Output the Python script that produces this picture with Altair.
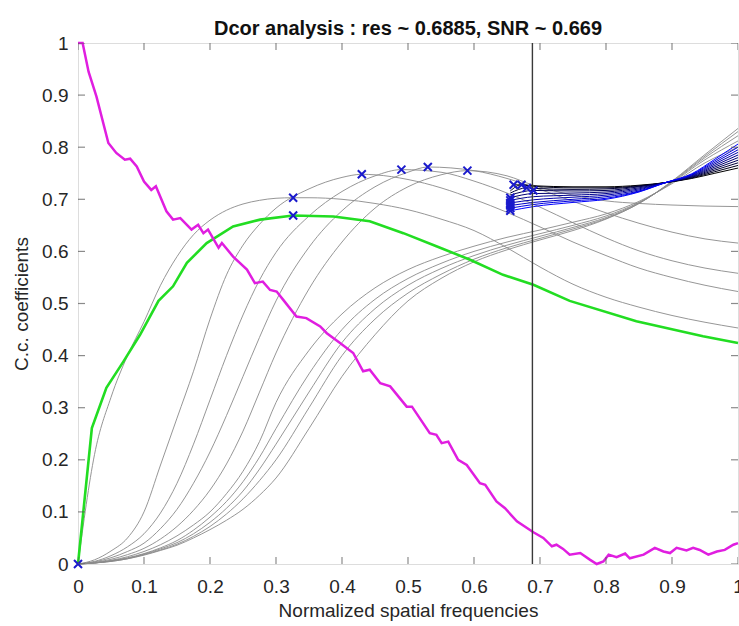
import altair as alt
import pandas as pd

W, H = 660, 521
AX = "#6e6e6e"
TXT = "#262626"
FONT = "Liberation Sans"

title_text = "Dcor analysis : res ~ 0.6885, SNR ~ 0.669"
res_cut = 0.6885
x_ticks = [0, 0.1, 0.2, 0.3, 0.4, 0.5, 0.6, 0.7, 0.8, 0.9, 1]
y_ticks = [0, 0.1, 0.2, 0.3, 0.4, 0.5, 0.6, 0.7, 0.8, 0.9, 1]

# unfiltered decorrelation curve d0(r)
green_x = [0, 0.021, 0.043, 0.069, 0.094, 0.122, 0.144, 0.165, 0.195, 0.235, 0.276,
           0.326, 0.387, 0.442, 0.493, 0.543, 0.594, 0.644, 0.69, 0.745, 0.846, 0.947, 1.0]
green_y = [0, 0.261, 0.338, 0.389, 0.44, 0.505, 0.533, 0.578, 0.616, 0.648, 0.661,
           0.669, 0.667, 0.658, 0.635, 0.61, 0.584, 0.555, 0.536, 0.505, 0.466, 0.437, 0.424]

# normalized radial power spectrum
mag_x = [0, 0.007, 0.016, 0.028, 0.046, 0.058, 0.071, 0.079, 0.089, 0.1, 0.111, 0.118,
         0.134, 0.144, 0.155, 0.172, 0.182, 0.19, 0.197, 0.213, 0.218, 0.235, 0.256,
         0.268, 0.28, 0.291, 0.301, 0.311, 0.331, 0.346, 0.367, 0.377, 0.397, 0.417,
         0.432, 0.442, 0.458, 0.473, 0.498, 0.506, 0.533, 0.543, 0.551, 0.561, 0.576,
         0.589, 0.609, 0.617, 0.634, 0.647, 0.665, 0.69, 0.705, 0.718, 0.725, 0.735,
         0.745, 0.761, 0.776, 0.786, 0.796, 0.804, 0.816, 0.829, 0.836, 0.857, 0.874,
         0.887, 0.897, 0.907, 0.922, 0.932, 0.942, 0.955, 0.968, 0.98, 0.993, 1.0]
mag_y = [1.0, 1.0, 0.945, 0.897, 0.808, 0.789, 0.776, 0.778, 0.763, 0.734, 0.718, 0.725,
         0.677, 0.661, 0.664, 0.642, 0.651, 0.635, 0.642, 0.607, 0.616, 0.59, 0.565,
         0.539, 0.542, 0.526, 0.523, 0.507, 0.475, 0.472, 0.456, 0.443, 0.424, 0.405,
         0.37, 0.373, 0.347, 0.341, 0.302, 0.302, 0.251, 0.248, 0.232, 0.235, 0.2,
         0.19, 0.155, 0.152, 0.12, 0.107, 0.082, 0.061, 0.05, 0.034, 0.037, 0.029,
         0.018, 0.021, 0.008, 0.0, 0.005, 0.018, 0.013, 0.02, 0.011, 0.018, 0.031,
         0.024, 0.021, 0.031, 0.026, 0.031, 0.027, 0.018, 0.024, 0.027, 0.037, 0.04]

# first high-pass sweep
grid = [0, 0.025, 0.05, 0.075, 0.1, 0.125, 0.15, 0.175, 0.2, 0.225, 0.25, 0.275, 0.3,
        0.35, 0.4, 0.45, 0.5, 0.55, 0.6, 0.65, 0.7, 0.75, 0.8, 0.85, 0.9, 0.95, 1.0]

hp1_x = [0, 0.025, 0.05, 0.075, 0.1, 0.125, 0.15, 0.175, 0.2, 0.225, 0.25, 0.275, 0.3,
         0.326, 0.35, 0.4, 0.45, 0.5, 0.55, 0.6, 0.65, 0.7, 0.75, 0.8, 0.85, 0.9, 0.95, 1.0]
hp1_y = [0, 0.21, 0.32, 0.40, 0.465, 0.535, 0.59, 0.632, 0.66, 0.679, 0.691, 0.698, 0.702,
         0.703, 0.703, 0.70, 0.692, 0.68, 0.662, 0.64, 0.607, 0.57, 0.537, 0.512, 0.493,
         0.477, 0.464, 0.453]

hp2_x = [0, 0.025, 0.05, 0.075, 0.1, 0.125, 0.15, 0.175, 0.2, 0.225, 0.25, 0.275, 0.3,
         0.35, 0.4, 0.43, 0.45, 0.5, 0.55, 0.6, 0.65, 0.7, 0.75, 0.8, 0.85, 0.9, 0.95, 1.0]
hp2_y = [0, 0.008, 0.025, 0.05, 0.10, 0.19, 0.28, 0.37, 0.47, 0.555, 0.612, 0.652, 0.683,
         0.72, 0.742, 0.748, 0.747, 0.738, 0.722, 0.70, 0.675, 0.647, 0.618, 0.592, 0.568,
         0.55, 0.535, 0.523]

hp3_x = [0, 0.025, 0.05, 0.075, 0.1, 0.125, 0.15, 0.175, 0.2, 0.225, 0.25, 0.275, 0.3,
         0.35, 0.4, 0.45, 0.49, 0.55, 0.6, 0.65, 0.7, 0.75, 0.8, 0.85, 0.9, 0.95, 1.0]
hp3_y = [0, 0.005, 0.016, 0.033, 0.058, 0.098, 0.155, 0.23, 0.315, 0.40, 0.478, 0.545,
         0.598, 0.668, 0.715, 0.745, 0.757, 0.752, 0.735, 0.712, 0.685, 0.655, 0.626,
         0.601, 0.582, 0.568, 0.558]

hp4_x = [0, 0.025, 0.05, 0.075, 0.1, 0.125, 0.15, 0.175, 0.2, 0.225, 0.25, 0.275, 0.3,
         0.35, 0.4, 0.45, 0.5, 0.53, 0.6, 0.65, 0.7, 0.75, 0.8, 0.85, 0.9, 0.95, 1.0]
hp4_y = [0, 0.004, 0.012, 0.024, 0.04, 0.068, 0.105, 0.155, 0.215, 0.285, 0.36, 0.435,
         0.505, 0.608, 0.678, 0.724, 0.752, 0.762, 0.755, 0.74, 0.719, 0.696, 0.674,
         0.654, 0.637, 0.624, 0.616]

hp5_x = [0, 0.025, 0.05, 0.075, 0.1, 0.125, 0.15, 0.175, 0.2, 0.225, 0.25, 0.275, 0.3,
         0.35, 0.4, 0.45, 0.5, 0.55, 0.59, 0.65, 0.69, 0.75, 0.8, 0.85, 0.9, 0.95, 1.0]
hp5_y = [0, 0.003, 0.009, 0.018, 0.03, 0.048, 0.072, 0.103, 0.142, 0.192, 0.255, 0.33,
         0.405, 0.528, 0.618, 0.683, 0.724, 0.747, 0.755, 0.745, 0.727, 0.708, 0.697,
         0.692, 0.689, 0.687, 0.686]

hp6_y = [0, 0.002, 0.007, 0.014, 0.024, 0.037, 0.054, 0.075, 0.10, 0.135, 0.178, 0.235,
         0.31, 0.41, 0.48, 0.53, 0.565, 0.59, 0.61, 0.627, 0.641, 0.656, 0.672, 0.696,
         0.73, 0.77, 0.80]
hp7_y = [0, 0.002, 0.006, 0.012, 0.02, 0.031, 0.045, 0.065, 0.09, 0.12, 0.158, 0.205,
         0.26, 0.365, 0.45, 0.508, 0.548, 0.577, 0.60, 0.618, 0.634, 0.65, 0.668, 0.694,
         0.732, 0.776, 0.812]
hp8_y = [0, 0.002, 0.006, 0.011, 0.019, 0.029, 0.041, 0.058, 0.08, 0.107, 0.14, 0.182,
         0.23, 0.33, 0.425, 0.49, 0.535, 0.567, 0.592, 0.612, 0.629, 0.646, 0.665, 0.693,
         0.733, 0.78, 0.822]
hp9_y = [0, 0.002, 0.005, 0.01, 0.018, 0.027, 0.038, 0.053, 0.072, 0.096, 0.125, 0.16,
         0.2, 0.30, 0.40, 0.47, 0.52, 0.556, 0.585, 0.607, 0.625, 0.643, 0.663, 0.692,
         0.734, 0.783, 0.83]
hp10_y = [0, 0.002, 0.005, 0.01, 0.017, 0.026, 0.036, 0.05, 0.066, 0.084, 0.105, 0.132,
          0.165, 0.26, 0.36, 0.44, 0.505, 0.548, 0.58, 0.603, 0.622, 0.64, 0.662, 0.692,
          0.735, 0.786, 0.836]

# refined sweep around the cut-off (black -> blue)
ref_x = [0.655, 0.69, 0.75, 0.8, 0.85, 0.89, 0.93, 0.965, 1.0]
ref0_x = [0.655, 0.66, 0.69, 0.75, 0.8, 0.85, 0.89, 0.93, 0.965, 1.0]
ref0_y = [0.72, 0.728, 0.726, 0.724, 0.724, 0.727, 0.732, 0.74, 0.75, 0.76]
ref1_x = [0.655, 0.672, 0.69, 0.75, 0.8, 0.85, 0.89, 0.93, 0.965, 1.0]
ref1_y = [0.716, 0.728, 0.725, 0.722, 0.722, 0.726, 0.732, 0.741, 0.753, 0.765]
ref2_x = [0.655, 0.68, 0.69, 0.75, 0.8, 0.85, 0.89, 0.93, 0.965, 1.0]
ref2_y = [0.712, 0.722, 0.721, 0.719, 0.72, 0.725, 0.732, 0.742, 0.756, 0.77]
ref3_y = [0.708, 0.717, 0.716, 0.717, 0.724, 0.732, 0.743, 0.759, 0.775]
ref4_y = [0.703, 0.711, 0.712, 0.714, 0.722, 0.732, 0.744, 0.762, 0.78]
ref5_y = [0.698, 0.705, 0.708, 0.711, 0.72, 0.732, 0.745, 0.765, 0.785]
ref6_y = [0.693, 0.699, 0.704, 0.708, 0.718, 0.732, 0.746, 0.768, 0.79]
ref7_y = [0.688, 0.694, 0.70, 0.705, 0.716, 0.732, 0.747, 0.771, 0.795]
ref8_y = [0.683, 0.69, 0.697, 0.702, 0.715, 0.732, 0.748, 0.774, 0.80]
ref9_y = [0.678, 0.686, 0.694, 0.70, 0.714, 0.732, 0.749, 0.777, 0.806]
ref_colors = ["#000000", "#00001c", "#000038", "#000055", "#000071",
              "#00008e", "#0000aa", "#0000c6", "#0000e3", "#0000ff"]

# maxima of each curve
peak_x = [0, 0.326, 0.326, 0.43, 0.49, 0.53, 0.59, 0.66, 0.672, 0.68, 0.69,
          0.655, 0.655, 0.655, 0.655, 0.655, 0.655]
peak_y = [0, 0.669, 0.703, 0.748, 0.757, 0.762, 0.755, 0.728, 0.728, 0.722, 0.717,
          0.703, 0.698, 0.693, 0.688, 0.683, 0.678]


def curve(xs, ys, name):
    return pd.DataFrame({"f": xs, "c": ys, "curve": name})


gray_df = pd.concat([
    curve(hp1_x, hp1_y, "hp1"), curve(hp2_x, hp2_y, "hp2"), curve(hp3_x, hp3_y, "hp3"),
    curve(hp4_x, hp4_y, "hp4"), curve(hp5_x, hp5_y, "hp5"), curve(grid, hp6_y, "hp6"),
    curve(grid, hp7_y, "hp7"), curve(grid, hp8_y, "hp8"), curve(grid, hp9_y, "hp9"),
    curve(grid, hp10_y, "hp10"),
])
ref_names = ["r%d" % i for i in range(10)]
blue_df = pd.concat([
    curve(ref0_x, ref0_y, "r0"), curve(ref1_x, ref1_y, "r1"), curve(ref2_x, ref2_y, "r2"),
    curve(ref_x, ref3_y, "r3"), curve(ref_x, ref4_y, "r4"), curve(ref_x, ref5_y, "r5"),
    curve(ref_x, ref6_y, "r6"), curve(ref_x, ref7_y, "r7"), curve(ref_x, ref8_y, "r8"),
    curve(ref_x, ref9_y, "r9"),
])
green_df = curve(green_x, green_y, "d0")
mag_df = curve(mag_x, mag_y, "spectrum")
peak_df = pd.DataFrame({"f": peak_x, "c": peak_y})
cut_df = pd.DataFrame({"f": [res_cut]})

# tick positions on the four frame edges (drawn inward, clipped to the frame)
xtick_df = pd.concat([pd.DataFrame({"f": x_ticks, "c": 0.0}),
                      pd.DataFrame({"f": x_ticks, "c": 1.0})])
ytick_df = pd.concat([pd.DataFrame({"f": 0.0, "c": y_ticks}),
                      pd.DataFrame({"f": 1.0, "c": y_ticks})])

xs = alt.Scale(domain=[0, 1], nice=False, zero=False)
ys = alt.Scale(domain=[0, 1], nice=False, zero=False)

x_main = alt.Axis(values=x_ticks, format="~g", grid=False, domain=False, ticks=False,
                  labelFlush=False, labelFont=FONT, labelFontSize=19, labelColor=TXT,
                  labelPadding=13,
                  title="Normalized spatial frequencies", titleFont=FONT,
                  titleFontSize=19, titleFontWeight="normal", titleColor=TXT,
                  titleX=W / 2, titleY=46, titleBaseline="middle", titleAlign="center")
y_main = alt.Axis(values=y_ticks, format="~g", grid=False, domain=False, ticks=False,
                  labelFlush=False, labelFont=FONT, labelFontSize=19, labelColor=TXT,
                  labelPadding=10,
                  title="C.c. coefficients", titleFont=FONT, titleFontSize=19,
                  titleFontWeight="normal", titleColor=TXT, titleAngle=270,
                  titleX=-57, titleY=H / 2, titleBaseline="middle", titleAlign="center")


def pos(axes=None):
    return dict(x=alt.X("f:Q", scale=xs, axis=axes[0] if axes else None),
                y=alt.Y("c:Q", scale=ys, axis=axes[1] if axes else None))


gray = alt.Chart(gray_df).mark_line(
    color="#8a8a8a", strokeWidth=0.9, interpolate="monotone"
).encode(detail="curve:N", **pos((x_main, y_main)))

blue = alt.Chart(blue_df).mark_line(strokeWidth=1, interpolate="monotone").encode(
    color=alt.Color("curve:N", scale=alt.Scale(domain=ref_names, range=ref_colors),
                    legend=None),
    **pos(),
)

green = alt.Chart(green_df).mark_line(color="#22dd22", strokeWidth=2.6).encode(**pos())

magenta = alt.Chart(mag_df).mark_line(color="#e01ee0", strokeWidth=2.5).encode(**pos())

cut = alt.Chart(cut_df).mark_rule(color="#3a3a3a", strokeWidth=1.4).encode(
    x=alt.X("f:Q", scale=xs, axis=None),
)

peaks = alt.Chart(peak_df).mark_point(
    shape="M-1,-1L1,1M-1,1L1,-1", filled=False, size=64, strokeWidth=2,
    color="#1a1acc", opacity=1,
).encode(**pos())

xtick_marks = alt.Chart(xtick_df).mark_tick(
    orient="vertical", size=14, thickness=1.2, color="#5a5a5a", clip=True
).encode(**pos())
ytick_marks = alt.Chart(ytick_df).mark_tick(
    orient="horizontal", size=14, thickness=1.2, color="#5a5a5a", clip=True
).encode(**pos())

chart = alt.layer(
    gray, blue, green, magenta, cut, peaks, xtick_marks, ytick_marks
).resolve_axis(
    x="independent", y="independent"
).properties(
    width=W,
    height=H,
    autosize=alt.AutoSizeParams(type="none"),
    padding={"left": 78, "top": 43, "right": 1, "bottom": 59},
    title=alt.TitleParams(title_text, font=FONT, fontSize=20, fontWeight="bold",
                          color="#111111", anchor="middle", offset=0,
                          baseline="alphabetic", dy=21),
).configure_view(stroke=AX, strokeWidth=1.2).configure(background="white")

chart.save("out.html", embed_options={"renderer": "svg", "actions": False})
